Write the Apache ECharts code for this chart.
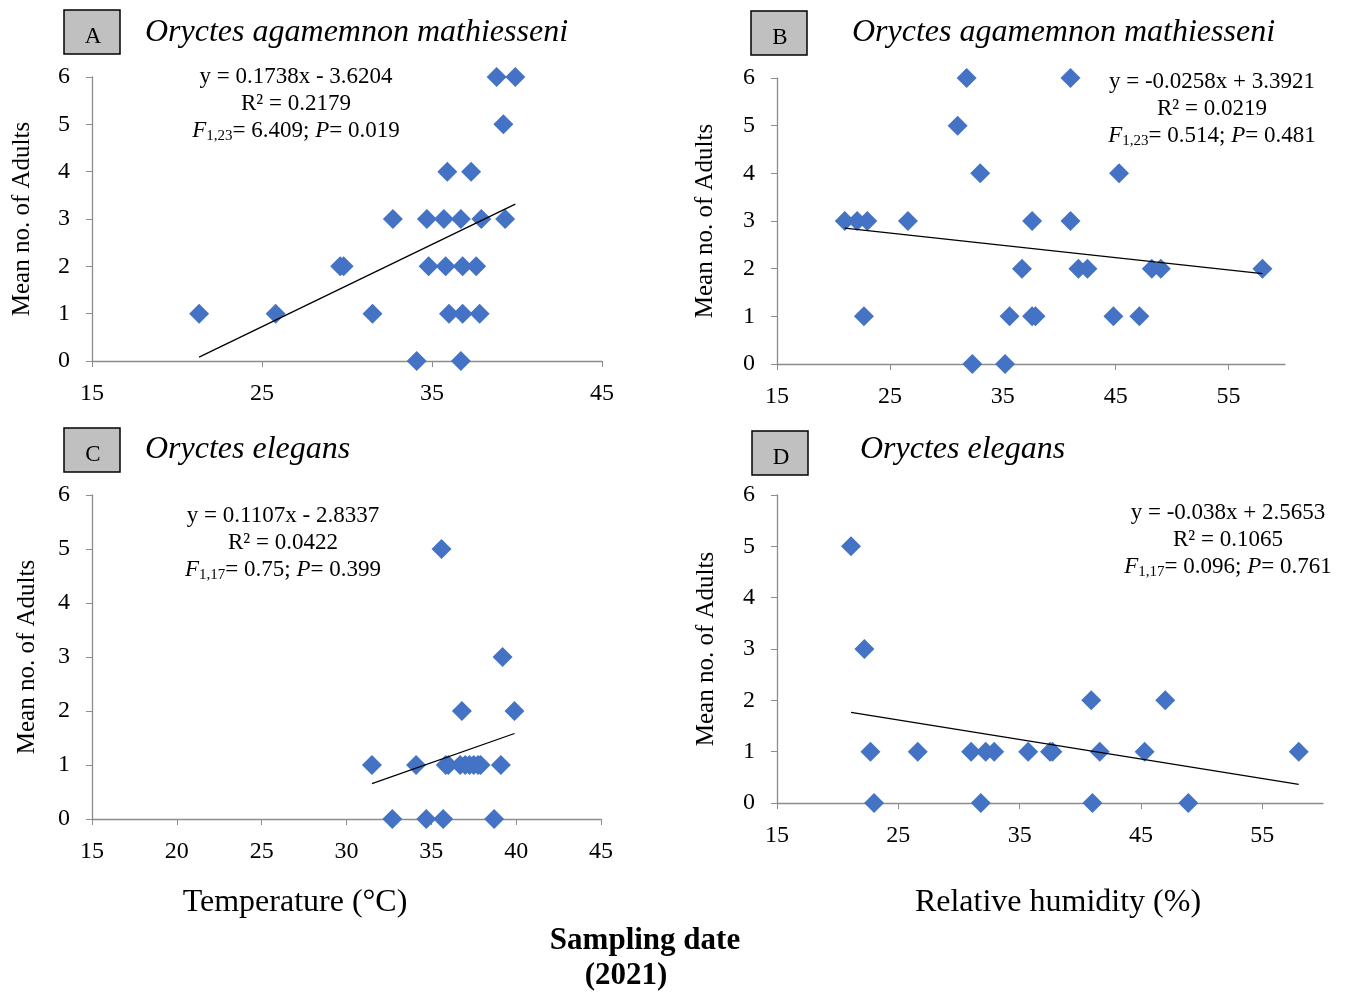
<!DOCTYPE html>
<html>
<head>
<meta charset="utf-8">
<script src="https://cdn.jsdelivr.net/npm/echarts@6/dist/echarts.min.js"></script>
<style>
  html, body { margin: 0; padding: 0; background: #fff; }
  #main { width: 1349px; height: 993px; }
</style>
</head>
<body>
<div id="main"></div>
<script>
// 各图数据 (温度 / 湿度 vs 成虫数量)
var aTemp = [21.3, 25.8, 29.6, 29.8, 31.5, 32.7, 34.1, 34.7, 34.8, 35.7, 35.8, 35.9, 36.0, 36.7, 36.7, 36.8, 36.8, 37.3, 37.6, 37.8, 37.9, 38.8, 39.2, 39.3, 39.9];
var aAdults = [1, 1, 2, 2, 1, 3, 0, 3, 2, 3, 2, 4, 1, 3, 0, 2, 1, 4, 2, 1, 3, 6, 5, 3, 6];

var bHum = [21.0, 22.1, 22.7, 23.0, 26.6, 31.0, 31.8, 32.3, 33.0, 35.2, 35.6, 36.7, 37.6, 37.6, 37.9, 41.0, 41.0, 41.7, 42.5, 44.8, 45.3, 47.1, 48.2, 49.0, 58.0];
var bAdults = [3, 3, 1, 3, 3, 5, 6, 0, 4, 0, 1, 2, 1, 3, 1, 6, 3, 2, 2, 1, 4, 1, 2, 2, 2];

var cTemp = [31.5, 32.7, 34.1, 34.7, 35.6, 35.7, 35.85, 36.0, 36.7, 36.8, 37.0, 37.25, 37.5, 37.75, 37.9, 38.7, 39.1, 39.2, 39.9];
var cAdults = [1, 0, 1, 0, 5, 0, 1, 1, 1, 2, 1, 1, 1, 1, 1, 0, 1, 3, 2];

var dHum = [21.1, 22.2, 22.7, 23.0, 26.6, 31.0, 31.8, 32.2, 32.9, 35.7, 37.5, 37.7, 40.9, 41.0, 41.6, 45.3, 47.0, 48.9, 58.0];
var dAdults = [5, 3, 1, 0, 1, 1, 0, 1, 1, 1, 1, 1, 2, 0, 1, 1, 2, 0, 1];

// 回归线系数 [斜率, 截距]
var aFit = [0.1738, -3.6204];
var bFit = [-0.0258, 3.3921];
var cFit = [0.1107, -2.8337];
var dFit = [-0.038, 2.5653];

var yTicks = [0, 1, 2, 3, 4, 5, 6];

(function () {
    var myChart = echarts.init(document.getElementById('main'));
    var serif = '"Liberation Serif", "Times New Roman", serif';
    var axisGray = '#8c8c8c';

    function pairs(xs, ys) {
        return xs.map(function (x, i) { return [x, ys[i]]; });
    }
    function trend(xs, fit) {
        var lo = Math.min.apply(null, xs), hi = Math.max.apply(null, xs);
        return [[lo, fit[0] * lo + fit[1]], [hi, fit[0] * hi + fit[1]]];
    }

    function xAxis(idx, max, interval) {
        return {
            type: 'value', gridIndex: idx, min: 15, max: max, interval: interval,
            splitLine: { show: false },
            axisLine: { lineStyle: { color: axisGray, width: 1.3 } },
            axisTick: { show: true, length: 6, lineStyle: { color: axisGray } },
            axisLabel: { color: '#000', fontFamily: serif, fontSize: 24, margin: 21, showMaxLabel: max === 45 }
        };
    }
    function yAxis(idx, gap) {
        return {
            type: 'value', gridIndex: idx, min: yTicks[0], max: yTicks[yTicks.length - 1], interval: 1,
            name: 'Mean no. of Adults', nameLocation: 'middle', nameRotate: 90, nameGap: gap,
            nameTextStyle: { color: '#000', fontFamily: serif, fontSize: 25 },
            splitLine: { show: false },
            axisLine: { show: true, lineStyle: { color: axisGray, width: 1.3 } },
            axisTick: { show: true, length: 6, lineStyle: { color: axisGray } },
            axisLabel: { color: '#000', fontFamily: serif, fontSize: 24, margin: 22 }
        };
    }
    function dots(idx, xs, ys) {
        return {
            type: 'scatter', xAxisIndex: idx, yAxisIndex: idx,
            symbol: 'diamond', symbolSize: 20,
            itemStyle: { color: '#4472c4', opacity: 1 },
            data: pairs(xs, ys), z: 2
        };
    }
    function fitLine(idx, xs, fit) {
        return {
            type: 'line', xAxisIndex: idx, yAxisIndex: idx,
            showSymbol: false, symbol: 'none',
            lineStyle: { color: '#000', width: 1.3 },
            data: trend(xs, fit), z: 3, silent: true
        };
    }

    // 面板标签框和标题
    function panelTag(letter, x, y, title, tx, ty) {
        return [
            { type: 'rect', shape: { x: x, y: y, width: 56, height: 44 },
              style: { fill: '#c0c0c0', stroke: '#000', lineWidth: 1.5 } },
            { type: 'text', style: { text: letter, x: x + 29, y: y + 27, align: 'center', verticalAlign: 'middle',
              fill: '#000', font: '23px ' + serif } },
            { type: 'text', style: { text: title, x: tx, y: ty, align: 'left', verticalAlign: 'middle',
              fill: '#000', font: 'italic 32px ' + serif } }
        ];
    }
    // 回归方程文字
    function stats(cx, y, eq, r2, df, f, p) {
        var f23 = '23px ' + serif;
        return [
            { type: 'text', style: { text: eq, x: cx, y: y, align: 'center', verticalAlign: 'middle', fill: '#000', font: f23 } },
            { type: 'text', style: { text: r2, x: cx, y: y + 27, align: 'center', verticalAlign: 'middle', fill: '#000', font: f23 } },
            { type: 'text', style: {
                text: '{i|F}{s|' + df + '}{n|= ' + f + '; }{i|P}{n|= ' + p + '}',
                x: cx, y: y + 54, align: 'center', verticalAlign: 'middle',
                rich: {
                    i: { fontFamily: serif, fontSize: 23, fontStyle: 'italic', fill: '#000', color: '#000' },
                    n: { fontFamily: serif, fontSize: 23, fill: '#000', color: '#000' },
                    s: { fontFamily: serif, fontSize: 15, fill: '#000', color: '#000', padding: [10, 0, 0, 0] }
                } } }
        ];
    }

    var graphic = [].concat(
        panelTag('A', 64, 10, 'Oryctes agamemnon mathiesseni', 145, 33),
        panelTag('B', 751, 11, 'Oryctes agamemnon mathiesseni', 852, 33),
        panelTag('C', 64, 428, 'Oryctes elegans', 145, 450),
        panelTag('D', 752, 431, 'Oryctes elegans', 860, 450),
        stats(296, 77, 'y = 0.1738x - 3.6204', 'R² = 0.2179', '1,23', '6.409', '0.019'),
        stats(1212, 82, 'y = -0.0258x + 3.3921', 'R² = 0.0219', '1,23', '0.514', '0.481'),
        stats(283, 516, 'y = 0.1107x - 2.8337', 'R² = 0.0422', '1,17', '0.75', '0.399'),
        stats(1228, 513, 'y = -0.038x + 2.5653', 'R² = 0.1065', '1,17', '0.096', '0.761'),
        [
            { type: 'text', style: { text: 'Temperature (°C)', x: 295, y: 903, align: 'center', verticalAlign: 'middle', fill: '#000', font: '32px ' + serif } },
            { type: 'text', style: { text: 'Relative humidity (%)', x: 1058, y: 903, align: 'center', verticalAlign: 'middle', fill: '#000', font: '32px ' + serif } },
            { type: 'text', style: { text: 'Sampling date', x: 645, y: 941, align: 'center', verticalAlign: 'middle', fill: '#000', font: 'bold 31px ' + serif } },
            { type: 'text', style: { text: '(2021)', x: 626, y: 976, align: 'center', verticalAlign: 'middle', fill: '#000', font: 'bold 31px ' + serif } }
        ]
    );

    var option = {
        backgroundColor: '#fff',
        animation: false,
        grid: [
            { left: 92, top: 77, width: 510, height: 284 },
            { left: 777, top: 78, width: 508, height: 286 },
            { left: 92, top: 495, width: 509, height: 324 },
            { left: 777, top: 495, width: 546, height: 308 }
        ],
        xAxis: [xAxis(0, 45, 10), xAxis(1, 60, 10), xAxis(2, 45, 5), xAxis(3, 60, 10)],
        yAxis: [yAxis(0, 57), yAxis(1, 59), yAxis(2, 52), yAxis(3, 58)],
        series: [
            dots(0, aTemp, aAdults), fitLine(0, aTemp, aFit),
            dots(1, bHum, bAdults), fitLine(1, bHum, bFit),
            dots(2, cTemp, cAdults), fitLine(2, cTemp, cFit),
            dots(3, dHum, dAdults), fitLine(3, dHum, dFit)
        ],
        graphic: graphic
    };
    myChart.setOption(option);
    window.addEventListener('resize', function () {
        myChart.resize();
    });
})();
</script>
</body>
</html>
